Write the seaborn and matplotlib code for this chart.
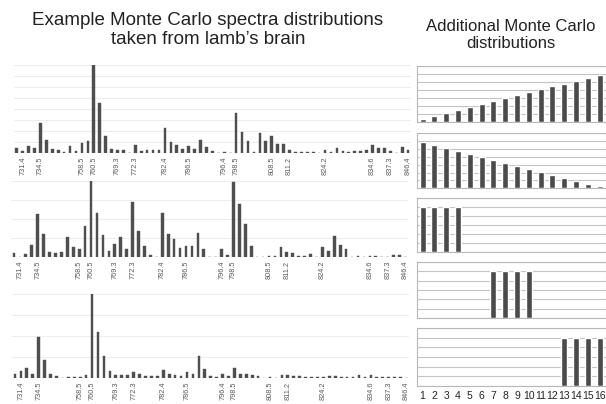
import numpy as np
import pandas as pd
import seaborn as sns
import matplotlib.pyplot as plt

sns.set_style("white")
plt.rcParams['font.family'] = ['Liberation Sans', 'DejaVu Sans']

# mass axis (categorical, only some categories carry a label)
n_bins = 67
label_bins = [2, 5, 12, 14, 18, 21, 26, 30, 36, 38, 44, 47, 53, 61, 64, 67]
label_text = ['731.4', '734.5', '758.5', '760.5', '769.3', '772.3', '782.4', '786.5',
              '796.4', '798.5', '808.5', '811.2', '824.2', '834.6', '837.3', '846.4']

# example spectra (relative intensity, % of max)
spectrum_a = [5.7, 2.3, 8, 5.3, 34, 14, 3.8, 2.7, 1.1, 7.6,
              2.3, 11.4, 13, 100, 56, 18.6, 3.8, 3, 3, 0,
              9, 2.3, 3, 3, 3, 28, 12.5, 8.4, 3.8, 8,
              4.6, 14.4, 6, 1.5, 0, 0.8, 0, 45, 23, 13,
              0.8, 22.4, 13, 19.4, 10, 9.5, 3, 0.8, 0.8, 0.8,
              0.8, 0, 3, 0.8, 5, 1.5, 0.8, 1.5, 1.5, 3,
              8.4, 5.3, 5.3, 2, 0, 6, 2.7]
spectrum_b = [4.4, 0, 3, 15.4, 55.7, 29.4, 5.7, 4.8, 6.6, 26.3,
              12.3, 10, 40.8, 100, 58, 28.5, 7.9, 16.7, 25.4, 10,
              72, 33.8, 14.5, 2.2, 0, 57, 30, 23, 11.8, 14.5,
              14.5, 30.7, 10, 0, 0, 10, 2.2, 98, 69, 43,
              13.6, 0, 0, 0.5, 0.5, 12.3, 5.7, 4.4, 1.3, 1.3,
              3, 0, 13, 7.9, 26.8, 15, 10, 0, 0.4, 0,
              1.3, 1.3, 0, 0, 2.2, 2.2, 0]
spectrum_c = [4.3, 8.3, 11.5, 5, 48.6, 21.7, 4.7, 2.4, 0, 1.2,
              1.2, 1.2, 3, 100, 55, 25.7, 8.3, 3, 3, 3,
              7, 4.7, 2, 2, 2, 9, 4.3, 3.5, 2, 7,
              4.7, 25.7, 10, 2, 0.5, 4.3, 2.4, 12, 4.7, 4,
              2.8, 2.4, 0, 0.5, 0, 3.5, 2.8, 2.4, 2.4, 1,
              0.8, 0.5, 0.5, 1.6, 1.6, 1.2, 1.2, 1.2, 2.8, 1,
              2.8, 1.2, 1, 0.8, 0.5, 0.5, 0]

# additional distributions, 16 bins
dist_bins = list(range(1, 17))
dist_rising = [0.35, 0.7, 1.08, 1.46, 1.84, 2.2, 2.58, 2.96, 3.33, 3.7, 4.08, 4.46, 4.7, 5.08, 5.46, 5.84]
dist_falling = [5.88, 5.46, 5.08, 4.71, 4.33, 3.96, 3.58, 3.21, 2.83, 2.46, 2.08, 1.71, 1.33, 0.96, 0.58, 0.25]
dist_low = [5, 5, 5, 5, 0, 0, 0, 0, 0, 0, 0, 0, 0, 0, 0, 0]
dist_mid = [0, 0, 0, 0, 0, 0, 5, 5, 5, 5, 0, 0, 0, 0, 0, 0]
dist_high = [0, 0, 0, 0, 0, 0, 0, 0, 0, 0, 0, 0, 5, 5, 5, 5]

W, H = 606, 404
fig = plt.figure(figsize=(W / 100, H / 100), dpi=100)


def px_axes(x0, y0, x1, y1):
    # pixel box (top-left origin) -> figure axes
    return fig.add_axes([x0 / W, 1 - y1 / H, (x1 - x0) / W, (y1 - y0) / H])


bar_color = '#4f4f4f'

# left: spectra
left_boxes = [(13.7, 64.8, 411.1, 152.7, 8), (11.0, 180.7, 408.4, 256.7, 4), (12.0, 294.0, 409.4, 377.7, 4)]
for vals, (x0, y0, x1, y1, ngrid) in zip([spectrum_a, spectrum_b, spectrum_c], left_boxes):
    ax = px_axes(x0, y0, x1, y1)
    df = pd.DataFrame({'bin': range(n_bins), 'intensity': vals})
    sns.barplot(data=df, x='bin', y='intensity', ax=ax, color=bar_color,
                width=0.45, saturation=1, edgecolor=bar_color, linewidth=0.3)
    ax.set_xlim(-0.5, n_bins - 0.5)
    ax.set_ylim(0, 100)
    ax.set_yticks(np.linspace(0, 100, ngrid + 1))
    ax.yaxis.grid(True, color='#ededed', linewidth=0.8)
    ax.set_axisbelow(True)
    ax.set_xticks([b - 1 for b in label_bins])
    ax.set_xticklabels(label_text, rotation=90, fontsize=5.3, color='#5a5a5a')
    ax.tick_params(axis='x', length=0, pad=3)
    ax.tick_params(axis='y', left=False, labelleft=False)
    ax.set_xlabel('')
    ax.set_ylabel('')
    for s in ax.spines.values():
        s.set_visible(False)

# right: additional distributions
right_boxes = [(416.7, 66.0, 605.5, 121.7, 7), (416.7, 133.3, 605.5, 188.3, 7),
               (416.7, 198.3, 605.5, 252.3, 6), (416.7, 261.7, 605.5, 318.3, 6),
               (416.7, 328.3, 605.5, 385.7, 6)]
dists = [dist_rising, dist_falling, dist_low, dist_mid, dist_high]
for i, (vals, (x0, y0, x1, y1, top)) in enumerate(zip(dists, right_boxes)):
    ax = px_axes(x0, y0, x1, y1)
    df = pd.DataFrame({'bin': dist_bins, 'value': vals})
    sns.barplot(data=df, x='bin', y='value', ax=ax, color='#4a4a4a',
                width=0.5, saturation=1)
    ax.set_xlim(-0.5, 15.5)
    ax.set_ylim(0, top)
    ax.set_yticks(range(top + 1))
    ax.yaxis.grid(True, color='#c4c4c4', linewidth=0.8)
    ax.set_axisbelow(True)
    ax.tick_params(axis='y', left=False, labelleft=False)
    if i == len(dists) - 1:
        ax.set_xticks(range(16))
        ax.set_xticklabels([str(b) for b in dist_bins], fontsize=7.5, color='#222222')
    else:
        ax.set_xticks([])
    ax.set_xticks(np.arange(-0.5, 16, 1), minor=True)
    ax.tick_params(axis='x', which='minor', length=3, color='#b0b0b0', width=0.8)
    ax.tick_params(axis='x', which='major', length=0, pad=4)
    ax.set_xlabel('')
    ax.set_ylabel('')
    for s in ax.spines.values():
        s.set_color('#b8b8b8')
        s.set_linewidth(0.8)

fig.text(208 / W, 1 - 30 / H, "Example Monte Carlo spectra distributions\ntaken from lamb\u2019s brain",
         ha='center', va='center', fontsize=13.5, color='#222222', linespacing=1.15)
fig.text(511 / W, 1 - 35 / H, "Additional Monte Carlo\ndistributions",
         ha='center', va='center', fontsize=12, color='#222222', linespacing=1.2)

fig.savefig('out.png', dpi=100)
